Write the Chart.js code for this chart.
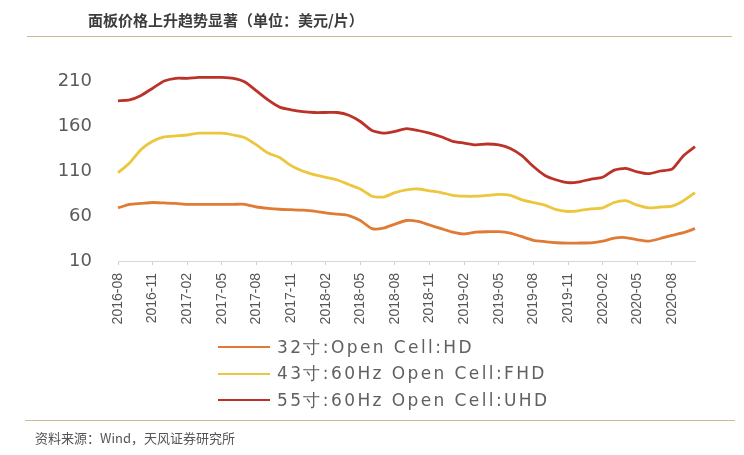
<!DOCTYPE html>
<html>
<head>
<meta charset="utf-8">
<script src="https://cdn.jsdelivr.net/npm/chart.js@4.4.0/dist/chart.umd.min.js"></script>
<style>
  html, body { margin: 0; padding: 0; background: #ffffff; }
  #wrap { position: relative; width: 744px; height: 455px; overflow: hidden; background: #fff; }
  #c { position: absolute; left: 0; top: 0; }
  .title { position: absolute; left: 88px; top: 8px; font-family: "Noto Sans CJK SC", sans-serif; font-weight: bold; font-size: 15px; color: #3d3d3d; line-height: 24px; white-space: nowrap; }
  .rule { position: absolute; height: 0; border-top: 1.5px solid #cdb994; }
  .source { position: absolute; left: 35px; top: 428px; font-family: "Noto Sans CJK SC", sans-serif; font-size: 13px; color: #555; line-height: 20px; white-space: nowrap; }
  #legend { position: absolute; left: 218px; top: 334px; }
  .li { position: relative; height: 26.5px; display: flex; align-items: center; }
  .sw { width: 52px; height: 0; border-top: 2.5px solid; margin-right: 7px; }
  .lt { font-family: "DejaVu Sans", sans-serif; font-size: 17px; letter-spacing: 2.4px; color: #606060; white-space: nowrap; }
</style>
</head>
<body>
<div id="wrap">
  <canvas id="c" width="744" height="455"></canvas>
  <div class="title">面板价格上升趋势显著（单位：美元/片）</div>
  <div class="rule" style="left:27px; width:705px; top:36px;"></div>
  <div id="legend"></div>
  <div class="rule" style="left:25px; width:710px; top:420px;"></div>
  <div class="source">资料来源：Wind，天风证券研究所</div>
</div>
<script>
const categories = [
  "2016-08","2016-09","2016-10","2016-11","2016-12",
  "2017-01","2017-02","2017-03","2017-04","2017-05","2017-06","2017-07","2017-08","2017-09","2017-10","2017-11","2017-12",
  "2018-01","2018-02","2018-03","2018-04","2018-05","2018-06","2018-07","2018-08","2018-09","2018-10","2018-11","2018-12",
  "2019-01","2019-02","2019-03","2019-04","2019-05","2019-06","2019-07","2019-08","2019-09","2019-10","2019-11","2019-12",
  "2020-01","2020-02","2020-03","2020-04","2020-05","2020-06","2020-07","2020-08","2020-09","2020-10"
];

const seriesNames = ["32寸:Open Cell:HD", "43寸:60Hz Open Cell:FHD", "55寸:60Hz Open Cell:UHD"];

const hd32 = [
  69, 73, 74, 75, 74.5,
  74, 73, 73, 73, 73, 73, 73, 70, 68.5, 67.5, 67, 66.5,
  65.5, 63.5, 62, 60.5, 55, 46, 46.5, 51, 55, 54, 50, 46,
  42, 40, 42, 42.5, 42.7, 41, 37, 33, 31.5, 30.3, 29.8, 30,
  30.2, 32, 35.5, 36, 33.5, 32, 35, 38.5, 41.5, 46
];

const fhd43 = [
  108, 119, 134, 143, 148,
  149, 150, 152, 152, 152, 150, 147, 139, 130, 125, 116, 110,
  106, 103, 100, 95, 90, 82, 81, 86, 89, 90, 88, 86,
  83, 82, 82, 83, 84, 83, 78, 75, 72, 67, 65, 66,
  68, 69, 75, 77, 72, 69, 70, 71, 77, 86
];

const uhd55 = [
  188, 189, 194, 202, 210,
  213, 213, 214, 214, 214, 213, 209, 199, 189, 181, 178, 176,
  175, 175, 175, 172, 165, 155, 152, 154, 157, 155, 152, 148,
  143, 141, 139, 140, 139, 135, 127, 115, 105, 100, 97, 98,
  101, 103, 111, 113, 109, 107, 110, 112, 127, 137
];

const yTickValues = [10, 60, 110, 160, 210];
const seriesColors = ["#e07b35", "#ecc63c", "#bb3229"];

const seriesData = [hd32, fhd43, uhd55];
const datasets = seriesData.map((d, i) => ({
  label: seriesNames[i],
  data: d,
  borderColor: seriesColors[i],
  backgroundColor: seriesColors[i],
  borderWidth: 2.8,
  pointRadius: 0,
  tension: 0.2,
  fill: false,
  clip: false
}));

const chart = new Chart(document.getElementById('c'), {
  type: 'line',
  data: { labels: categories, datasets: datasets },
  options: {
    responsive: false,
    animation: false,
    devicePixelRatio: 1,
    layout: { padding: { left: 0, right: 49, top: 63, bottom: 114 } },
    plugins: { legend: { display: false }, tooltip: { enabled: false } },
    scales: {
      x: {
        type: 'category',
        offset: false,
        border: { display: true, color: '#d6d6d6', width: 1 },
        grid: {
          drawOnChartArea: false,
          drawTicks: true,
          tickLength: 4,
          color: (ctx) => (ctx.index % 3 === 0 ? '#cfcfcf' : 'rgba(0,0,0,0)')
        },
        ticks: {
          autoSkip: false,
          maxRotation: 90,
          minRotation: 90,
          padding: 8,
          color: '#555555',
          font: { family: '"Liberation Sans", Arial, sans-serif', size: 14 },
          callback: function (val, idx) { return idx % 3 === 0 ? categories[idx] : ''; }
        },
        afterFit: (scale) => { scale.height = 80; }
      },
      y: {
        min: 10,
        max: 230,
        border: { display: false },
        grid: { display: false },
        ticks: {
          stepSize: 50,
          padding: 18,
          color: '#5a5a5a',
          font: { family: '"DejaVu Sans", sans-serif', size: 18 }
        },
        afterBuildTicks: (scale) => {
          scale.ticks = yTickValues.map(v => ({ value: v }));
        },
        afterFit: (scale) => { scale.width = 118; }
      }
    }
  }
});

// legend built from the chart's own datasets
const legendEl = document.getElementById('legend');
chart.data.datasets.forEach((ds) => {
  const row = document.createElement('div');
  row.className = 'li';
  const sw = document.createElement('div');
  sw.className = 'sw';
  sw.style.borderTopColor = ds.borderColor;
  const t = document.createElement('span');
  t.className = 'lt';
  t.textContent = ds.label;
  row.appendChild(sw);
  row.appendChild(t);
  legendEl.appendChild(row);
});
</script>
</body>
</html>
